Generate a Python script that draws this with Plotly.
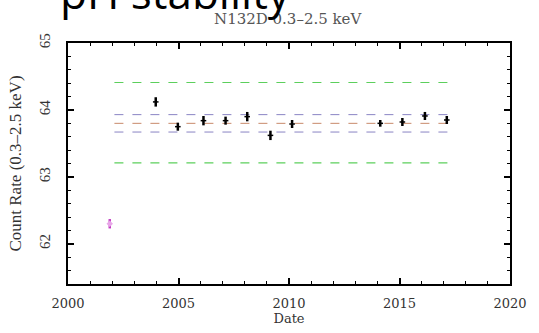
import plotly.graph_objects as go

# Observation epochs (decimal year) and measured count rates
dates = [2003.97, 2004.97, 2006.13, 2007.13, 2008.11, 2009.16, 2010.14,
         2014.13, 2015.13, 2016.15, 2017.14]
rates = [64.12, 63.75, 63.84, 63.84, 63.90, 63.62, 63.79,
         63.80, 63.82, 63.91, 63.85]
rate_err = [0.07, 0.06, 0.07, 0.06, 0.07, 0.07, 0.06, 0.05, 0.06, 0.06, 0.06]

# Early outlier epoch
early_date = [2001.89]
early_rate = [62.30]
early_err = [0.07]

# Reference levels: mean, +/- 1 sigma, +/- 0.6 band
ref_span = [2002.1, 2017.5]
mean_level = 63.80
sigma_levels = [63.93, 63.67]
band_levels = [64.41, 63.21]

# Axis ticks
x_ticks = [2000, 2005, 2010, 2015, 2020]
y_ticks = [62, 63, 64, 65]

serif = "Liberation Serif, Times New Roman, serif"
wide_serif = "DejaVu Serif, serif"

fig = go.Figure()

for lvl in band_levels:
    fig.add_trace(go.Scatter(x=ref_span, y=[lvl, lvl], mode="lines",
                             line=dict(color="#5ccf5c", width=1.2, dash="dash"),
                             hoverinfo="skip", showlegend=False))
for lvl in sigma_levels:
    fig.add_trace(go.Scatter(x=ref_span, y=[lvl, lvl], mode="lines",
                             line=dict(color="#8a84c4", width=1, dash="dash"),
                             hoverinfo="skip", showlegend=False))
fig.add_trace(go.Scatter(x=ref_span, y=[mean_level, mean_level], mode="lines",
                         line=dict(color="#c88a6a", width=1, dash="dash"),
                         hoverinfo="skip", showlegend=False))

fig.add_trace(go.Scatter(
    x=dates, y=rates, mode="markers",
    marker=dict(symbol="line-ew", size=4, color="black",
                line=dict(color="black", width=1.5)),
    error_y=dict(type="data", array=rate_err, color="black",
                 thickness=2.5, width=0),
    showlegend=False))

fig.add_trace(go.Scatter(
    x=early_date, y=early_rate, mode="markers",
    marker=dict(symbol="diamond", size=5, color="#e8a6e8",
                line=dict(color="#e8a6e8", width=0)),
    error_y=dict(type="data", array=early_err, color="#c23cc2",
                 thickness=2.5, width=0),
    showlegend=False))

axis_common = dict(
    showline=True, linecolor="black", linewidth=2, mirror="ticks",
    ticks="inside", ticklen=6, tickwidth=1.5, tickcolor="black",
    showgrid=False, zeroline=False, ticklabeloverflow="allow",
)

fig.update_xaxes(
    range=[2000, 2020], tickmode="array", tickvals=x_ticks,
    tickfont=dict(family=wide_serif, size=13, color="#333"),
    ticklabelstandoff=6,
    minor=dict(dtick=1, tick0=2000, ticks="inside", ticklen=3,
               tickwidth=1.2, tickcolor="black"),
    title=dict(text="Date", font=dict(family=wide_serif, size=13, color="#333"),
               standoff=1),
    **axis_common)

fig.update_yaxes(
    range=[61.4, 65], tickmode="array", tickvals=y_ticks, tickangle=-90,
    tickfont=dict(family=serif, size=15, color="#333"),
    ticklabelstandoff=10,
    minor=dict(dtick=0.2, tick0=62, ticks="inside", ticklen=3,
               tickwidth=1.2, tickcolor="black"),
    title=dict(text="Count Rate (0.3–2.5 keV)",
               font=dict(family=serif, size=17, color="#333"), standoff=11),
    **axis_common)

plot_l, plot_r, plot_t, plot_b = 68, 13, 43, 34
plot_w = 539 - plot_l - plot_r
plot_h = 333 - plot_t - plot_b


def px_x(x):
    return (x - plot_l) / plot_w


def px_y(y):
    return (333 - plot_b - y) / plot_h


fig.update_layout(
    width=539, height=333,
    margin=dict(l=plot_l, r=plot_r, t=plot_t, b=plot_b),
    paper_bgcolor="white", plot_bgcolor="white",
    annotations=[
        dict(text="N132D 0.3–2.5 keV", x=px_x(217), xanchor="left",
             y=px_y(17), yanchor="middle", xref="paper", yref="paper",
             showarrow=False,
             font=dict(family=wide_serif, size=15, color="#555")),
        dict(text="pH stability", x=px_x(58), xanchor="left",
             y=px_y(-11), yanchor="middle", xref="paper", yref="paper",
             showarrow=False,
             font=dict(family="Open Sans", size=44, color="black")),
    ],
)

fig.write_html("out.html")
